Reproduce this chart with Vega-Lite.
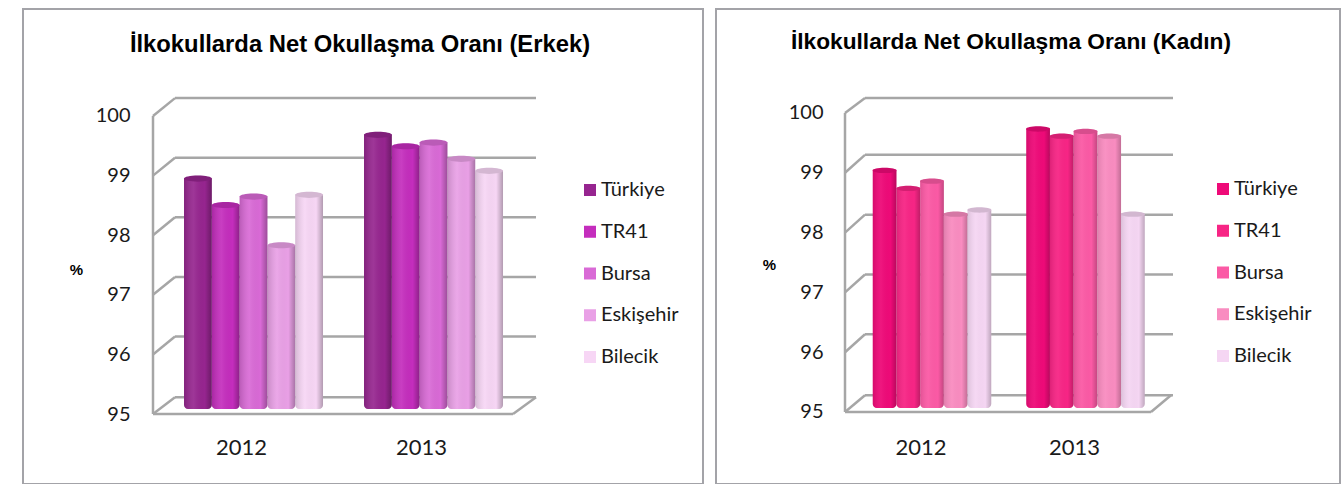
{"$schema":"https://vega.github.io/schema/vega-lite/v6.json","padding":{"left":22,"top":8,"right":0,"bottom":0},"background":"white","spacing":11,
"resolve":{"scale":{"color":"independent","xOffset":"independent"}},
"config":{"view":{"stroke":"#a3a3a8","strokeWidth":2,"fill":"white"},"font":"Lato"},
"datasets":{
"erkek":[{"yil":"2012","yer":"Türkiye","oran":98.84},{"yil":"2012","yer":"TR41","oran":98.4},{"yil":"2012","yer":"Bursa","oran":98.54},{"yil":"2012","yer":"Eskişehir","oran":97.73},{"yil":"2012","yer":"Bilecik","oran":98.57},{"yil":"2013","yer":"Türkiye","oran":99.57},{"yil":"2013","yer":"TR41","oran":99.38},{"yil":"2013","yer":"Bursa","oran":99.44},{"yil":"2013","yer":"Eskişehir","oran":99.17},{"yil":"2013","yer":"Bilecik","oran":98.97}],
"kadin":[{"yil":"2012","yer":"Türkiye","oran":98.96},{"yil":"2012","yer":"TR41","oran":98.66},{"yil":"2012","yer":"Bursa","oran":98.78},{"yil":"2012","yer":"Eskişehir","oran":98.23},{"yil":"2012","yer":"Bilecik","oran":98.3},{"yil":"2013","yer":"Türkiye","oran":99.65},{"yil":"2013","yer":"TR41","oran":99.53},{"yil":"2013","yer":"Bursa","oran":99.61},{"yil":"2013","yer":"Eskişehir","oran":99.53},{"yil":"2013","yer":"Bilecik","oran":98.23}],
"duvar1":[{"a":152,"b":513,"p":95.28,"q":95.28},{"a":152,"b":513,"p":96.3,"q":96.3},{"a":152,"b":513,"p":97.3,"q":97.3},{"a":152,"b":513,"p":98.3,"q":98.3},{"a":152,"b":513,"p":99.3,"q":99.3},{"a":152,"b":513,"p":100.3,"q":100.3},{"a":130,"b":152,"p":95,"q":95.28},{"a":130,"b":152,"p":96,"q":96.3},{"a":130,"b":152,"p":97,"q":97.3},{"a":130,"b":152,"p":98,"q":98.3},{"a":130,"b":152,"p":99,"q":99.3},{"a":130,"b":152,"p":100,"q":100.3},{"a":130,"b":130,"p":95,"q":100},{"a":130,"b":490,"p":95,"q":95},{"a":490,"b":513,"p":95,"q":95.28}],
"duvar2":[{"a":149,"b":457,"p":95.28,"q":95.28},{"a":149,"b":457,"p":96.3,"q":96.3},{"a":149,"b":457,"p":97.3,"q":97.3},{"a":149,"b":457,"p":98.3,"q":98.3},{"a":149,"b":457,"p":99.3,"q":99.3},{"a":149,"b":457,"p":100.25,"q":100.25},{"a":129,"b":149,"p":95,"q":95.28},{"a":129,"b":149,"p":96,"q":96.3},{"a":129,"b":149,"p":97,"q":97.3},{"a":129,"b":149,"p":98,"q":98.3},{"a":129,"b":149,"p":99,"q":99.3},{"a":129,"b":149,"p":100,"q":100.25},{"a":129,"b":129,"p":95,"q":100},{"a":129,"b":435,"p":95,"q":95},{"a":435,"b":455,"p":95,"q":95.28}]
},
"hconcat":[
{"width":680,"height":475,
"title":{"text":"İlkokullarda Net Okullaşma Oranı (Erkek)","font":"Liberation Sans","fontSize":23.8,"fontWeight":"bold","color":"#000000","anchor":"middle","dx":-3,"offset":-48},
"resolve":{"scale":{"x":"independent","y":"independent"},"axis":{"x":"independent","y":"independent"}},
"layer":[
{"data":{"name":"duvar1"},"mark":{"type":"rule","color":"#a6a6a6","strokeWidth":2.5},
"encoding":{"x":{"field":"a","type":"quantitative","scale":{"domain":[0,680],"nice":false},"axis":null},"x2":{"field":"b"},
"y":{"field":"p","type":"quantitative","scale":{"domain":[93.826,101.795],"nice":false,"zero":false},
"axis":{"orient":"left","offset":-130,"values":[95,96,97,98,99,100],"grid":false,"domain":false,"ticks":false,"labelFont":"Lato","labelFontSize":20,"labelColor":"#1a1a1a","labelPadding":23,"title":"%","titleFont":"Liberation Sans","titleFontSize":15,"titleFontWeight":"bold","titleColor":"#000000","titleAngle":0,"titleX":-77,"titleY":260,"titleAlign":"center","titleBaseline":"middle"}},"y2":{"field":"q"}}},
{"data":{"name":"erkek"},"mark":{"type":"bar","cornerRadiusBottomLeft":4,"cornerRadiusBottomRight":4},
"encoding":{"x":{"field":"yil","type":"nominal","scale":{"range":[140.5,500.5],"paddingInner":0.228,"paddingOuter":0.114},"axis":{"title":null,"orient":"bottom","offset":-47,"domain":false,"ticks":false,"labelAngle":0,"labelFont":"Lato","labelFontSize":22,"labelColor":"#1a1a1a","labelPadding":0,"labelOffset":-12}},
"xOffset":{"field":"yer","type":"nominal","sort":["Türkiye","TR41","Bursa","Eskişehir","Bilecik"],"scale":{"range":[0,139]}},
"y":{"field":"oran","type":"quantitative","scale":{"domain":[93.75,101.667],"nice":false,"zero":false},"axis":null},"y2":{"datum":95},
"color":{"field":"yer","type":"nominal","sort":["Türkiye","TR41","Bursa","Eskişehir","Bilecik"],"scale":{"domain":["Türkiye","TR41","Bursa","Eskişehir","Bilecik"],"range":["#96258f","#c42dbd","#d96ad6","#e9a0e6","#f7d6f5"]},
"legend":{"title":null,"orient":"none","legendX":557,"legendY":171,"symbolType":"square","symbolSize":144,"symbolStrokeWidth":0,"labelFont":"Lato","labelFontSize":20,"labelColor":"#1a1a1a","labelOffset":1,"rowPadding":21.75,"padding":0}}}},
{"data":{"name":"erkek"},"mark":{"type":"bar","cornerRadiusBottomLeft":4,"cornerRadiusBottomRight":4,"fill":{"x1":0,"y1":0,"x2":1,"y2":0,"gradient":"linear","stops":[{"offset":0,"color":"rgba(0,0,0,0.14)"},{"offset":0.35,"color":"rgba(255,255,255,0.08)"},{"offset":0.75,"color":"rgba(0,0,0,0)"},{"offset":1,"color":"rgba(0,0,0,0.28)"}]}},
"encoding":{"x":{"field":"yil","type":"nominal","scale":{"range":[140.5,500.5],"paddingInner":0.228,"paddingOuter":0.114},"axis":null},
"xOffset":{"field":"yer","type":"nominal","sort":["Türkiye","TR41","Bursa","Eskişehir","Bilecik"],"scale":{"range":[0,139]}},
"y":{"field":"oran","type":"quantitative","scale":{"domain":[93.75,101.667],"nice":false,"zero":false},"axis":null},"y2":{"datum":95}}},
{"data":{"name":"erkek"},"mark":{"type":"point","filled":true,"opacity":1,"size":784,"shape":"M-1,0A1,0.22 0 1 1 1,0A1,0.22 0 1 1 -1,0Z"},
"encoding":{"x":{"field":"yil","type":"nominal","scale":{"range":[140.5,500.5],"paddingInner":0.228,"paddingOuter":0.114},"axis":null},
"xOffset":{"field":"yer","type":"nominal","sort":["Türkiye","TR41","Bursa","Eskişehir","Bilecik"],"scale":{"range":[0,139]}},
"y":{"field":"oran","type":"quantitative","scale":{"domain":[93.75,101.667],"nice":false,"zero":false},"axis":null},
"color":{"field":"yer","type":"nominal","legend":null}}},
{"data":{"name":"erkek"},"mark":{"type":"point","filled":true,"opacity":0.14,"color":"#000000","size":784,"shape":"M-1,0A1,0.22 0 1 1 1,0A1,0.22 0 1 1 -1,0Z"},
"encoding":{"x":{"field":"yil","type":"nominal","scale":{"range":[140.5,500.5],"paddingInner":0.228,"paddingOuter":0.114},"axis":null},
"xOffset":{"field":"yer","type":"nominal","sort":["Türkiye","TR41","Bursa","Eskişehir","Bilecik"],"scale":{"range":[0,139]}},
"y":{"field":"oran","type":"quantitative","scale":{"domain":[93.75,101.667],"nice":false,"zero":false},"axis":null}}}
]},
{"width":624,"height":475,
"title":{"text":"İlkokullarda Net Okullaşma Oranı (Kadın)","font":"Liberation Sans","fontSize":22.7,"fontWeight":"bold","color":"#000000","anchor":"middle","dx":-17,"offset":-45},
"resolve":{"scale":{"x":"independent","y":"independent"},"axis":{"x":"independent","y":"independent"}},
"layer":[
{"data":{"name":"duvar2"},"mark":{"type":"rule","color":"#a6a6a6","strokeWidth":2.5},
"encoding":{"x":{"field":"a","type":"quantitative","scale":{"domain":[0,624],"nice":false},"axis":null},"x2":{"field":"b"},
"y":{"field":"p","type":"quantitative","scale":{"domain":[93.796,101.739],"nice":false,"zero":false},
"axis":{"orient":"left","offset":-129,"values":[95,96,97,98,99,100],"grid":false,"domain":false,"ticks":false,"labelFont":"Lato","labelFontSize":20,"labelColor":"#1a1a1a","labelPadding":22,"title":"%","titleFont":"Liberation Sans","titleFontSize":15,"titleFontWeight":"bold","titleColor":"#000000","titleAngle":0,"titleX":-76,"titleY":255,"titleAlign":"center","titleBaseline":"middle"}},"y2":{"field":"q"}}},
{"data":{"name":"kadin"},"mark":{"type":"bar","cornerRadiusBottomLeft":4,"cornerRadiusBottomRight":4},
"encoding":{"x":{"field":"yil","type":"nominal","scale":{"range":[139.25,446.25],"paddingInner":0.228,"paddingOuter":0.114},"axis":{"title":null,"orient":"bottom","offset":-47,"domain":false,"ticks":false,"labelAngle":0,"labelFont":"Lato","labelFontSize":22,"labelColor":"#1a1a1a","labelPadding":0,"labelOffset":-11}},
"xOffset":{"field":"yer","type":"nominal","sort":["Türkiye","TR41","Bursa","Eskişehir","Bilecik"],"scale":{"range":[0,118.5]}},
"y":{"field":"oran","type":"quantitative","scale":{"domain":[93.733,101.65],"nice":false,"zero":false},"axis":null},"y2":{"datum":95},
"color":{"field":"yer","type":"nominal","sort":["Türkiye","TR41","Bursa","Eskişehir","Bilecik"],"scale":{"domain":["Türkiye","TR41","Bursa","Eskişehir","Bilecik"],"range":["#ee0a78","#f72585","#fb5aa5","#f98cc0","#f5d6f3"]},
"legend":{"title":null,"orient":"none","legendX":497,"legendY":170,"symbolType":"square","symbolSize":144,"symbolStrokeWidth":0,"labelFont":"Lato","labelFontSize":20,"labelColor":"#1a1a1a","labelOffset":1,"rowPadding":21.75,"padding":0}}}},
{"data":{"name":"kadin"},"mark":{"type":"bar","cornerRadiusBottomLeft":4,"cornerRadiusBottomRight":4,"fill":{"x1":0,"y1":0,"x2":1,"y2":0,"gradient":"linear","stops":[{"offset":0,"color":"rgba(0,0,0,0.1)"},{"offset":0.35,"color":"rgba(255,255,255,0.05)"},{"offset":0.75,"color":"rgba(0,0,0,0)"},{"offset":1,"color":"rgba(0,0,0,0.22)"}]}},
"encoding":{"x":{"field":"yil","type":"nominal","scale":{"range":[139.25,446.25],"paddingInner":0.228,"paddingOuter":0.114},"axis":null},
"xOffset":{"field":"yer","type":"nominal","sort":["Türkiye","TR41","Bursa","Eskişehir","Bilecik"],"scale":{"range":[0,118.5]}},
"y":{"field":"oran","type":"quantitative","scale":{"domain":[93.733,101.65],"nice":false,"zero":false},"axis":null},"y2":{"datum":95}}},
{"data":{"name":"kadin"},"mark":{"type":"point","filled":true,"opacity":1,"size":576,"shape":"M-1,0A1,0.22 0 1 1 1,0A1,0.22 0 1 1 -1,0Z"},
"encoding":{"x":{"field":"yil","type":"nominal","scale":{"range":[139.25,446.25],"paddingInner":0.228,"paddingOuter":0.114},"axis":null},
"xOffset":{"field":"yer","type":"nominal","sort":["Türkiye","TR41","Bursa","Eskişehir","Bilecik"],"scale":{"range":[0,118.5]}},
"y":{"field":"oran","type":"quantitative","scale":{"domain":[93.733,101.65],"nice":false,"zero":false},"axis":null},
"color":{"field":"yer","type":"nominal","legend":null}}},
{"data":{"name":"kadin"},"mark":{"type":"point","filled":true,"opacity":0.14,"color":"#000000","size":576,"shape":"M-1,0A1,0.22 0 1 1 1,0A1,0.22 0 1 1 -1,0Z"},
"encoding":{"x":{"field":"yil","type":"nominal","scale":{"range":[139.25,446.25],"paddingInner":0.228,"paddingOuter":0.114},"axis":null},
"xOffset":{"field":"yer","type":"nominal","sort":["Türkiye","TR41","Bursa","Eskişehir","Bilecik"],"scale":{"range":[0,118.5]}},
"y":{"field":"oran","type":"quantitative","scale":{"domain":[93.733,101.65],"nice":false,"zero":false},"axis":null}}}
]}
]}
